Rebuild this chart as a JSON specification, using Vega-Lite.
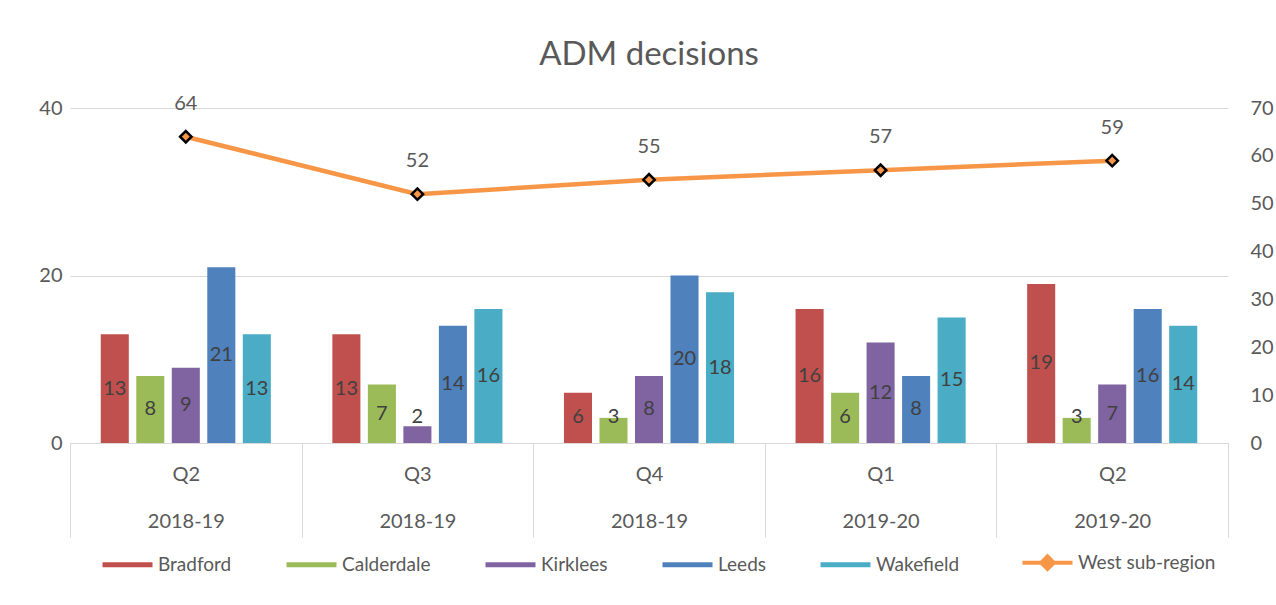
{
  "$schema": "https://vega.github.io/schema/vega-lite/v6.json",
  "autosize": {"type": "none"},
  "padding": {"left": 70, "top": 108, "right": 48, "bottom": 162},
  "width": 1158,
  "height": 335,
  "background": "white",
  "config": {
    "font": "Lato",
    "view": {"stroke": null},
    "axis": {"labelFont": "Lato", "labelColor": "#595959", "labelFontSize": 20, "title": null}
  },
  "title": {
    "text": "ADM decisions",
    "fontSize": 33,
    "fontWeight": "normal",
    "color": "#595959",
    "anchor": "middle",
    "offset": 22
  },
  "datasets": {
    "bars": [
      {"cat": "Q2|2018-19", "series": "Bradford", "value": 13},
      {"cat": "Q2|2018-19", "series": "Calderdale", "value": 8},
      {"cat": "Q2|2018-19", "series": "Kirklees", "value": 9},
      {"cat": "Q2|2018-19", "series": "Leeds", "value": 21},
      {"cat": "Q2|2018-19", "series": "Wakefield", "value": 13},
      {"cat": "Q3|2018-19", "series": "Bradford", "value": 13},
      {"cat": "Q3|2018-19", "series": "Calderdale", "value": 7},
      {"cat": "Q3|2018-19", "series": "Kirklees", "value": 2},
      {"cat": "Q3|2018-19", "series": "Leeds", "value": 14},
      {"cat": "Q3|2018-19", "series": "Wakefield", "value": 16},
      {"cat": "Q4|2018-19", "series": "Bradford", "value": 6},
      {"cat": "Q4|2018-19", "series": "Calderdale", "value": 3},
      {"cat": "Q4|2018-19", "series": "Kirklees", "value": 8},
      {"cat": "Q4|2018-19", "series": "Leeds", "value": 20},
      {"cat": "Q4|2018-19", "series": "Wakefield", "value": 18},
      {"cat": "Q1|2019-20", "series": "Bradford", "value": 16},
      {"cat": "Q1|2019-20", "series": "Calderdale", "value": 6},
      {"cat": "Q1|2019-20", "series": "Kirklees", "value": 12},
      {"cat": "Q1|2019-20", "series": "Leeds", "value": 8},
      {"cat": "Q1|2019-20", "series": "Wakefield", "value": 15},
      {"cat": "Q2|2019-20", "series": "Bradford", "value": 19},
      {"cat": "Q2|2019-20", "series": "Calderdale", "value": 3},
      {"cat": "Q2|2019-20", "series": "Kirklees", "value": 7},
      {"cat": "Q2|2019-20", "series": "Leeds", "value": 16},
      {"cat": "Q2|2019-20", "series": "Wakefield", "value": 14}
    ],
    "line": [
      {"cat": "Q2|2018-19", "series": "West sub-region", "total": 64},
      {"cat": "Q3|2018-19", "series": "West sub-region", "total": 52},
      {"cat": "Q4|2018-19", "series": "West sub-region", "total": 55},
      {"cat": "Q1|2019-20", "series": "West sub-region", "total": 57},
      {"cat": "Q2|2019-20", "series": "West sub-region", "total": 59}
    ]
  },
  "encoding": {
    "x": {
      "field": "cat",
      "type": "nominal",
      "sort": ["Q2|2018-19", "Q3|2018-19", "Q4|2018-19", "Q1|2019-20", "Q2|2019-20"],
      "scale": {"paddingInner": 0, "paddingOuter": 0},
      "axis": {
        "labelExpr": "split(datum.label, '|')",
        "labelAngle": 0,
        "labelLineHeight": 47,
        "labelBaseline": "top",
        "labelPadding": -73,
        "tickBand": "extent",
        "tickSize": 94,
        "tickColor": "#d9d9d9",
        "tickWidth": 1,
        "domainColor": "#d9d9d9",
        "domainWidth": 1,
        "labelOverlap": false,
        "grid": false
      }
    }
  },
  "layer": [
    {
      "data": {"name": "bars"},
      "mark": {"type": "bar"},
      "encoding": {
        "xOffset": {
          "field": "series",
          "type": "nominal",
          "sort": ["Bradford", "Calderdale", "Kirklees", "Leeds", "Wakefield"],
          "scale": {"paddingInner": 0.21, "paddingOuter": 0.866}
        },
        "y": {
          "field": "value",
          "type": "quantitative",
          "scale": {"domain": [0, 40], "nice": false, "zero": true},
          "axis": {
            "values": [0, 20, 40],
            "grid": true,
            "gridColor": "#d9d9d9",
            "gridWidth": 1,
            "domain": false,
            "ticks": false,
            "labelPadding": 8
          }
        },
        "color": {
          "field": "series",
          "type": "nominal",
          "scale": {
            "domain": ["Bradford", "Calderdale", "Kirklees", "Leeds", "Wakefield", "West sub-region"],
            "range": ["#C0504D", "#9BBB59", "#8064A2", "#4F81BD", "#4BACC6", "#F79646"]
          },
          "legend": {
            "title": null,
            "orient": "none",
            "direction": "horizontal",
            "legendX": 48,
            "legendY": 445,
            "padding": 0,
            "symbolSize": 2500,
            "symbolType": "M-1,-0.1H1V0.1H-1Z",
            "labelFontSize": 19,
            "labelColor": "#595959",
            "labelOffset": 21,
            "columnPadding": 54,
            "encode": {
              "symbols": {
                "update": {
                  "shape": {"signal": "datum.value === 'West sub-region' ? 'M-1,0H1M0,-0.25L0.25,0L0,0.25L-0.25,0Z' : 'M-1,-0.1H1V0.1H-1Z'"},
                  "size": {"value": 2500},
                  "fill": {"signal": "scale('color', datum.value)"},
                  "stroke": {"signal": "scale('color', datum.value)"},
                  "strokeWidth": {"signal": "datum.value === 'West sub-region' ? 4 : 0"},
                  "opacity": {"value": 1}
                }
              }
            }
          }
        }
      }
    },
    {
      "data": {"name": "bars"},
      "mark": {"type": "text", "dy": -26, "fontSize": 20, "color": "#404040", "baseline": "middle", "align": "center"},
      "encoding": {
        "xOffset": {
          "field": "series",
          "type": "nominal",
          "sort": ["Bradford", "Calderdale", "Kirklees", "Leeds", "Wakefield"],
          "scale": {"paddingInner": 0.21, "paddingOuter": 0.866}
        },
        "y": {
          "field": "value",
          "type": "quantitative",
          "scale": {"domain": [6.2, 86.2], "nice": false, "zero": false, "clamp": true},
          "axis": null
        },
        "text": {"field": "value", "type": "quantitative"}
      }
    },
    {
      "data": {"name": "line"},
      "encoding": {
        "y": {
          "field": "total",
          "type": "quantitative",
          "scale": {"domain": [0, 70], "nice": false, "zero": true},
          "axis": {
            "orient": "right",
            "values": [0, 10, 20, 30, 40, 50, 60, 70],
            "grid": false,
            "domain": false,
            "ticks": false,
            "labelPadding": 22
          }
        }
      },
      "layer": [
        {
          "mark": {"type": "line", "strokeWidth": 4.5},
          "encoding": {
            "color": {
              "field": "series",
              "type": "nominal",
              "scale": {
                "domain": ["Bradford", "Calderdale", "Kirklees", "Leeds", "Wakefield", "West sub-region"],
                "range": ["#C0504D", "#9BBB59", "#8064A2", "#4F81BD", "#4BACC6", "#F79646"]
              }
            }
          }
        },
        {
          "mark": {"type": "point", "shape": "diamond", "filled": true, "fill": "#F79646", "stroke": "#000000", "strokeWidth": 2.5, "size": 130, "opacity": 1},
          "encoding": {}
        },
        {
          "mark": {"type": "text", "dy": -33, "fontSize": 20, "color": "#595959", "baseline": "middle", "align": "center"},
          "encoding": {"text": {"field": "total", "type": "quantitative"}}
        }
      ]
    }
  ],
  "resolve": {"scale": {"y": "independent"}}
}
